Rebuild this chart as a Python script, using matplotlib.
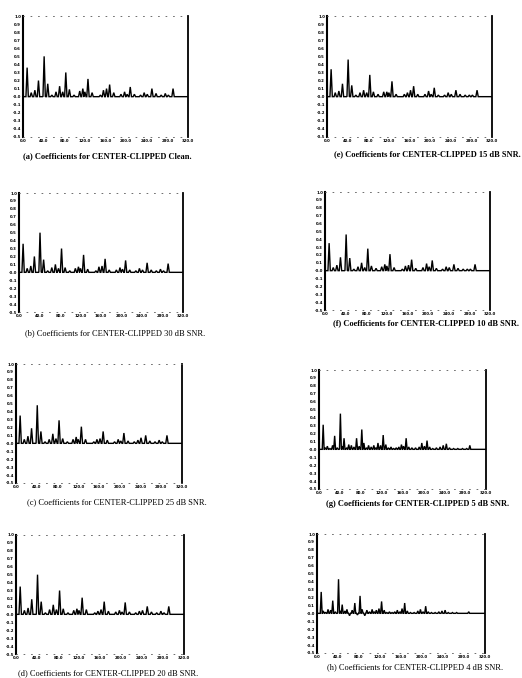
import numpy as np
import matplotlib
matplotlib.use("Agg")
import matplotlib.pyplot as plt

W, H = 522, 678

# lag positions of the peaks (samples) for the low-noise panels
peak_lags = [8, 16, 23, 30, 41, 48, 56, 64, 71, 77, 83, 90, 99, 110, 116, 120,
             126, 134, 150, 156, 162, 168, 176, 190, 197, 202, 208, 216, 228,
             235, 241, 250, 258, 268, 276, 282, 291]

vals_clean = [0.36, 0.05, 0.08, 0.20, 0.50, 0.16, 0.02, 0.06, 0.13, 0.06, 0.30, 0.09,
              0.02, 0.07, 0.10, 0.06, 0.22, 0.05, 0.02, 0.08, 0.10, 0.15, 0.05, 0.03,
              0.06, 0.03, 0.12, 0.03, 0.02, 0.05, 0.03, 0.10, 0.04, 0.02, 0.04, 0.02, 0.10]
vals_30db = [0.36, 0.05, 0.08, 0.20, 0.50, 0.16, 0.02, 0.06, 0.10, 0.05, 0.30, 0.06,
             0.02, 0.05, 0.07, 0.05, 0.22, 0.04, 0.02, 0.07, 0.08, 0.17, 0.03, 0.03,
             0.06, 0.04, 0.15, 0.03, 0.02, 0.05, 0.03, 0.12, 0.03, 0.02, 0.04, 0.02, 0.11]
vals_25db = [0.35, 0.05, 0.09, 0.19, 0.48, 0.15, 0.02, 0.05, 0.12, 0.06, 0.29, 0.06,
             0.02, 0.05, 0.08, 0.05, 0.21, 0.05, 0.02, 0.05, 0.06, 0.15, 0.04, 0.02,
             0.05, 0.03, 0.13, 0.03, 0.02, 0.04, 0.07, 0.10, 0.03, 0.02, 0.04, 0.02, 0.10]
vals_20db = [0.35, 0.05, 0.08, 0.19, 0.50, 0.16, 0.02, 0.06, 0.12, 0.06, 0.30, 0.07,
             0.02, 0.05, 0.07, 0.05, 0.21, 0.06, 0.02, 0.04, 0.06, 0.16, 0.04, 0.03,
             0.05, 0.03, 0.15, 0.03, 0.02, 0.04, 0.05, 0.10, 0.03, 0.02, 0.04, 0.02, 0.10]
vals_15db = [0.34, 0.05, 0.07, 0.16, 0.46, 0.14, 0.02, 0.05, 0.08, 0.05, 0.27, 0.06,
             0.03, 0.06, 0.06, 0.05, 0.19, 0.03, 0.03, 0.05, 0.08, 0.13, 0.03, 0.03,
             0.07, 0.03, 0.11, 0.02, 0.02, 0.05, 0.03, 0.08, 0.03, 0.02, 0.02, 0.02, 0.08]
vals_10db = [0.35, 0.04, 0.07, 0.17, 0.46, 0.16, 0.02, 0.05, 0.10, 0.04, 0.28, 0.06,
             0.03, 0.05, 0.08, 0.06, 0.21, 0.04, 0.02, 0.06, 0.07, 0.14, 0.03, 0.04,
             0.09, 0.05, 0.13, 0.03, 0.02, 0.05, 0.04, 0.08, 0.03, 0.02, 0.02, 0.02, 0.08]

# denser lag grid for the noisy panels (5 dB and 4 dB)
noisy_lags = [8, 12, 16, 21, 26, 30, 35, 41, 45, 48, 53, 57, 62, 67, 72, 77, 82, 86,
              91, 95, 100, 105, 109, 113, 118, 123, 128, 133, 138, 143, 148, 153, 158,
              162, 167, 172, 178, 185, 192, 197, 202, 207, 212, 218, 225, 232, 238,
              244, 250, 258, 266, 275, 283, 289]
vals_5db = [0.31, 0.02, 0.04, 0.01, 0.05, 0.17, 0.02, 0.45, 0.04, 0.14, 0.02, 0.06,
            0.05, 0.03, 0.14, 0.04, 0.25, 0.08, 0.02, 0.05, 0.03, 0.05, 0.02, 0.08,
            0.05, 0.18, 0.06, 0.02, 0.03, 0.01, 0.02, 0.03, 0.06, 0.04, 0.14, 0.03,
            0.02, 0.02, 0.03, 0.08, 0.04, 0.11, 0.03, 0.01, 0.02, 0.03, 0.05, 0.07,
            0.02, 0.01, 0.01, 0.01, 0.01, 0.05]
vals_4db = [0.27, 0.03, 0.01, 0.05, 0.04, 0.16, 0.02, 0.43, 0.03, 0.11, 0.03, 0.05,
            -0.03, 0.04, 0.13, -0.02, 0.22, 0.05, -0.03, 0.04, 0.02, 0.05, 0.02, 0.04,
            0.06, 0.15, 0.04, 0.01, 0.02, 0.01, 0.02, 0.04, 0.02, 0.06, 0.13, 0.03,
            0.01, 0.01, 0.03, 0.05, 0.02, 0.09, 0.02, 0.01, 0.01, 0.02, 0.03, 0.04,
            0.01, 0.01, 0.01, 0.0, 0.0, 0.02]

captions = {
    "a": "(a) Coefficients for CENTER-CLIPPED Clean.",
    "b": "(b) Coefficients for CENTER-CLIPPED 30 dB SNR.",
    "c": "(c) Coefficients for CENTER-CLIPPED 25 dB SNR.",
    "d": "(d) Coefficients for CENTER-CLIPPED 20 dB SNR.",
    "e": "(e) Coefficients for CENTER-CLIPPED 15 dB SNR.",
    "f": "(f) Coefficients for CENTER-CLIPPED 10 dB SNR.",
    "g": "(g) Coefficients for CENTER-CLIPPED 5 dB SNR.",
    "h": "(h) Coefficients for CENTER-CLIPPED 4 dB SNR.",
}

# panel: (data lags, values, axes box in px [left, right, top, bottom], caption x/y px, bold)
panels = {
    "a": (peak_lags, vals_clean, (23, 188, 16, 137), (107, 156), True),
    "b": (peak_lags, vals_30db, (19, 183, 193, 312), (115, 333), False),
    "c": (peak_lags, vals_25db, (16, 182, 364, 483), (117, 502), False),
    "d": (peak_lags, vals_20db, (16, 184, 535, 654), (108, 673), False),
    "e": (peak_lags, vals_15db, (327, 492, 16, 137), (427, 154), True),
    "f": (peak_lags, vals_10db, (325, 490, 192, 310), (426, 323), True),
    "g": (noisy_lags, vals_5db, (319, 486, 370, 489), (418, 504), True),
    "h": (noisy_lags, vals_4db, (317, 485, 534, 653), (415, 667), False),
}


def trace(lags, vals, half=2.0):
    xs, ys = [0, 0.8], [1.0, 0.0]
    for l, v in zip(lags, vals):
        xs += [l - half, l, l + half]
        ys += [0, v, 0]
    xs.append(320)
    ys.append(0)
    return xs, ys


fig = plt.figure(figsize=(W / 100, H / 100), dpi=100)

for key, (lags, vals, box, cap, bold) in panels.items():
    l, r, t, b = box
    ax = fig.add_axes([l / W, 1 - b / H, (r - l) / W, (b - t) / H])
    half = 1.8 if lags is noisy_lags else 2.3
    xs, ys = trace(lags, vals, half)
    ax.plot(xs, ys, color="black", lw=1.0, solid_joinstyle="miter")
    ax.set_xlim(0, 320)
    ax.set_ylim(-0.5, 1.0)
    ax.set_xticks(np.arange(0, 321, 40))
    ax.set_xticklabels(["%.1f" % v for v in np.arange(0, 321, 40)])
    yt = np.round(np.arange(-0.5, 1.01, 0.1), 1)
    ax.set_yticks(yt)
    ax.set_yticklabels(["%.1f" % v for v in yt])
    ax.tick_params(length=0, pad=1.5, labelsize=2.8)
    for lab in ax.get_xticklabels() + ax.get_yticklabels():
        lab.set_fontweight("bold")
    ax.spines["left"].set_linewidth(1.5)
    ax.spines["right"].set_linewidth(1.3)
    for s in ("top", "bottom"):
        ax.spines[s].set_linestyle((0, (1, 8)))
        ax.spines[s].set_linewidth(0.6)
        ax.spines[s].set_color("#555555")
    fig.text(cap[0] / W, 1 - cap[1] / H, captions[key], ha="center", va="center",
             fontsize=6, family="Liberation Serif",
             fontweight="bold" if bold else "normal")

fig.savefig("out.png", dpi=100)
